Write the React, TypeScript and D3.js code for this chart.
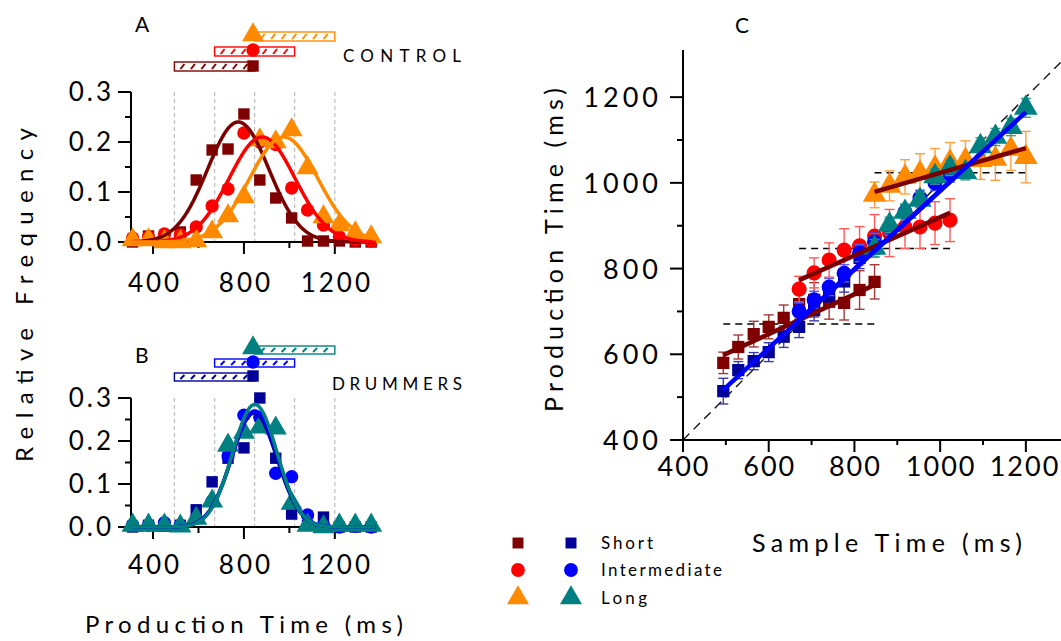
import React from 'react';
import * as d3 from 'd3';

// histogram bin centres (ms), panels A and B
const binCenters = [310, 380, 450, 520, 590, 660, 730, 800, 870, 940, 1010, 1080, 1150, 1220, 1290, 1360];

// panel A, control
const ctlShortFreq = [0, 0.012, 0.008, 0.02, 0.124, 0.184, 0.186, 0.256, 0.124, 0.088, 0.048, 0.002, 0.002, 0.002, 0, 0];
const ctlInterFreq = [0.008, 0.01, 0.016, 0.014, 0.03, 0.072, 0.106, 0.218, 0.2, 0.195, 0.108, 0.064, 0.034, 0.01, 0.004, 0.002];
const ctlLongFreq = [0.004, 0.004, 0, 0, 0.002, 0.02, 0.052, 0.09, 0.204, 0.2, 0.224, 0.148, 0.05, 0.034, 0.018, 0.01];

// panel B, drummers
const drmShortFreq = [0, 0.004, 0.002, 0.004, 0.04, 0.105, 0.16, 0.184, 0.3, 0.16, 0.03, 0.004, 0.023, 0, 0, 0];
const drmInterFreq = [0.005, 0.004, 0.01, 0.004, 0.02, 0.06, 0.165, 0.26, 0.255, 0.125, 0.117, 0.028, 0.004, 0, 0.002, 0];
const drmLongFreq = [0.004, 0.004, 0.004, 0.002, 0.02, 0.06, 0.19, 0.22, 0.232, 0.23, 0.055, 0.004, 0, 0.004, 0.004, 0.004];

// gaussian fits [short, intermediate, long]
const ctlFitMu = [775, 880, 975];
const ctlFitSd = [135, 145, 150];
const ctlFitAmp = [0.24, 0.21, 0.21];
const drmFitMu = [845, 848, 848];
const drmFitSd = [100, 100, 98];
const drmFitAmp = [0.265, 0.27, 0.285];

// sample intervals (ms)
const intervalShort = [494, 847];
const intervalInter = [671, 1023];
const intervalLong = [847, 1200];
const intervalBounds = [494, 671, 847, 1023, 1200];
const intervalMeans = [670.5, 847, 1023.5];

// panel C sample times
const shortSample = [494, 529, 565, 600, 635, 671, 706, 741, 776, 812, 847];
const interSample = [671, 706, 741, 776, 812, 847, 882, 918, 953, 988, 1023];
const longSample = [847, 882, 918, 953, 988, 1023, 1059, 1094, 1129, 1165, 1200];

// panel C mean production times and errors
const ctlShortProd = [580, 617, 647, 664, 685, 717, 727, 722, 720, 750, 769];
const ctlShortErr = [25, 28, 30, 28, 30, 35, 40, 40, 40, 45, 40];
const ctlInterProd = [752, 790, 820, 843, 853, 876, 883, 897, 897, 906, 913];
const ctlInterErr = [30, 35, 40, 50, 45, 50, 55, 50, 50, 50, 50];
const ctlLongProd = [972, 993, 1014, 1023, 1035, 1049, 1053, 1053, 1056, 1079, 1060];
const ctlLongErr = [30, 35, 40, 45, 45, 45, 45, 45, 50, 50, 60];

const drmShortProd = [514, 563, 584, 605, 641, 664, 703, 735, 770, 825, 858];
const drmShortErr = [30, 20, 20, 22, 25, 25, 25, 25, 25, 25, 25];
const drmInterProd = [700, 727, 757, 789, 836, 862, 897, 932, 965, 1000, 1020];
const drmInterErr = [20, 20, 20, 20, 20, 20, 18, 18, 18, 18, 18];
const drmLongProd = [848, 902, 932, 960, 1015, 1035, 1025, 1085, 1107, 1130, 1175];
const drmLongErr = [20, 18, 18, 18, 18, 18, 18, 20, 20, 20, 22];

// linear fits: [y at interval start, y at interval end]
const ctlFitShort = [598, 762];
const ctlFitInter = [773, 930];
const ctlFitLong = [979, 1081];
const drmFitShort = [517, 841];
const drmFitInter = [680, 1003];
const drmFitLong = [841, 1165];

const legendLabels = ['Short', 'Intermediate', 'Long'];

const C = {
  ctlShort: '#800000',
  ctlInter: '#ff0000',
  ctlLong: '#ff8a00',
  drmShort: '#000099',
  drmInter: '#0000ff',
  drmLong: '#008080',
  ctlFit: '#7a0000',
  drmFit: '#0000ff',
};

const FONT = 'Lato, "Open Sans", sans-serif';

const xA = d3.scaleLinear().domain([303, 1390]).range([131, 378]);
const yA = d3.scaleLinear().domain([0, 0.3]).range([242, 92]);
const yB = d3.scaleLinear().domain([0, 0.3]).range([527, 398]);
const xC = d3.scaleLinear().domain([400, 1282]).range([683, 1061]);
const yC = d3.scaleLinear().domain([400, 1310]).range([440, 50]);

const sym = (t: d3.SymbolType, s: number) => d3.symbol().type(t).size(s)() as string;
const SQ = d3.symbolSquare;
const CI = d3.symbolCircle;
const TR = d3.symbolTriangle;

const gaussXs = d3.range(303, 1382, 4);

function gaussPath(mu: number, sd: number, amp: number, y: d3.ScaleLinear<number, number>) {
  return d3.line<number>()
    .x(v => xA(v))
    .y(v => y(amp * Math.exp(-((v - mu) ** 2) / (2 * sd * sd))))(gaussXs) as string;
}

function HatchBar({ x0, x1, top, h, color }: { x0: number; x1: number; top: number; h: number; color: string }) {
  const slashes = d3.range(x0 + 6, x1 - 4, 10.5);
  return (
    <g>
      <rect x={x0} y={top} width={x1 - x0} height={h} fill="#fff" stroke={color} strokeWidth={1.4} />
      {slashes.map((sx, i) => (
        <line key={i} x1={sx} y1={top + h - 2} x2={sx + 4} y2={top + 2} stroke={color} strokeWidth={2} />
      ))}
    </g>
  );
}

function HistPanel({ y, freqs, colors, mus, sds, amps, curveColors, barTops, barH, markerY, title, titleXY, group, groupXY, groupLen, xLabelY }: any) {
  const y0 = y(0);
  const y3 = y(0.3);
  const shapes = [SQ, CI, TR];
  const sizes = [130, 140, 210];
  const intervals = [intervalShort, intervalInter, intervalLong];
  return (
    <g>
      {intervalBounds.map(b => (
        <line key={b} x1={xA(b)} x2={xA(b)} y1={y3} y2={y0} stroke="#bdbdbd" strokeWidth={1.2} strokeDasharray="4,3" />
      ))}
      {/* axes */}
      <line x1={131} x2={131} y1={y3} y2={y0} stroke="#000" strokeWidth={2} />
      <line x1={131} x2={376} y1={y0} y2={y0} stroke="#000" strokeWidth={2} />
      {[0, 0.1, 0.2, 0.3].map(t => (
        <g key={t}>
          <line x1={118} x2={131} y1={y(t)} y2={y(t)} stroke="#000" strokeWidth={2} />
          <text x={114} y={y(t) + 9} textAnchor="end" fontSize={26} fontFamily={FONT} letterSpacing={3}>{t.toFixed(1)}</text>
        </g>
      ))}
      {[0.05, 0.15, 0.25].map(t => (
        <line key={t} x1={125} x2={131} y1={y(t)} y2={y(t)} stroke="#000" strokeWidth={2} />
      ))}
      {[400, 800, 1200].map(t => (
        <g key={t}>
          <line x1={xA(t)} x2={xA(t)} y1={y0} y2={y0 + 12} stroke="#000" strokeWidth={2} />
          <text x={xA(t) + 2} y={xLabelY} textAnchor="middle" fontSize={26} fontFamily={FONT} letterSpacing={3}>{t}</text>
        </g>
      ))}
      {[600, 1000].map(t => (
        <line key={t} x1={xA(t)} x2={xA(t)} y1={y0} y2={y0 + 6} stroke="#000" strokeWidth={2} />
      ))}
      {/* data */}
      {freqs.map((f: number[], si: number) => (
        <g key={si}>
          {f.map((v, i) => (
            <path key={i} d={sym(shapes[si], sizes[si])} transform={`translate(${xA(binCenters[i])},${y(v)})`} fill={colors[si]} />
          ))}
        </g>
      ))}
      {mus.map((m: number, si: number) => (
        <path key={si} d={gaussPath(m, sds[si], amps[si], y)} fill="none" stroke={curveColors[si]} strokeWidth={3.5} />
      ))}
      {/* interval bars */}
      {intervals.map((iv, si) => (
        <g key={si}>
          <HatchBar x0={xA(iv[0])} x1={xA(iv[1])} top={barTops[si]} h={barH} color={colors[si]} />
        </g>
      ))}
      {intervals.map((iv, si) => (
        <path key={si} d={sym(shapes[si], sizes[si])} transform={`translate(${xA(840)},${markerY[si]})`} fill={colors[si]} />
      ))}
      <text x={titleXY[0]} y={titleXY[1]} fontSize={21} fontFamily={FONT}>{title}</text>
      <text x={groupXY[0]} y={groupXY[1]} fontSize={17} fontFamily={FONT} textLength={groupLen} lengthAdjust="spacing">{group}</text>
    </g>
  );
}

function ErrPoints({ xs, ys, errs, shape, size, color, errColor }: any) {
  return (
    <g>
      {xs.map((xv: number, i: number) => {
        const cx = xC(xv);
        const top = yC(ys[i] + errs[i]);
        const bot = yC(ys[i] - errs[i]);
        return (
          <g key={i} stroke={errColor} strokeWidth={1.4}>
            <line x1={cx} x2={cx} y1={top} y2={bot} />
            <line x1={cx - 5} x2={cx + 5} y1={top} y2={top} />
            <line x1={cx - 5} x2={cx + 5} y1={bot} y2={bot} />
          </g>
        );
      })}
      {xs.map((xv: number, i: number) => (
        <path key={i} d={sym(shape, size)} transform={`translate(${xC(xv)},${yC(ys[i])})`} fill={color} />
      ))}
    </g>
  );
}

function FitLine({ iv, fit, color }: any) {
  return <line x1={xC(iv[0])} y1={yC(fit[0])} x2={xC(iv[1])} y2={yC(fit[1])} stroke={color} strokeWidth={4.5} />;
}

export default function App() {
  const intervals = [intervalShort, intervalInter, intervalLong];
  return (
    <svg width={1061} height={641} style={{ position: 'absolute', left: 0, top: 0, background: '#fff' }}>
      <rect width={1061} height={641} fill="#fff" />
      <HistPanel
        y={yA}
        freqs={[ctlShortFreq, ctlInterFreq, ctlLongFreq]}
        colors={[C.ctlShort, C.ctlInter, C.ctlLong]}
        mus={ctlFitMu} sds={ctlFitSd} amps={ctlFitAmp}
        curveColors={[C.ctlFit, C.ctlInter, C.ctlLong]}
        barTops={[62, 47, 32]} barH={9} markerY={[66, 50, 35]}
        title="A" titleXY={[135, 32]}
        group="CONTROL" groupXY={[343, 62]} groupLen={118}
        xLabelY={292}
      />
      <HistPanel
        y={yB}
        freqs={[drmShortFreq, drmInterFreq, drmLongFreq]}
        colors={[C.drmShort, C.drmInter, C.drmLong]}
        mus={drmFitMu} sds={drmFitSd} amps={drmFitAmp}
        curveColors={[C.drmShort, C.drmInter, C.drmLong]}
        barTops={[373, 359, 346]} barH={8} markerY={[376, 362, 348]}
        title="B" titleXY={[135, 363]}
        group="DRUMMERS" groupXY={[332, 390]} groupLen={130}
        xLabelY={574}
      />
      <text transform="translate(33,295) rotate(-90)" textAnchor="middle" fontSize={24} fontFamily={FONT} textLength={334} lengthAdjust="spacing">Relative Frequency</text>
      <text x={85} y={633} fontSize={24} fontFamily={FONT} textLength={318} lengthAdjust="spacing">Production Time (ms)</text>

      {/* panel C */}
      <text x={735} y={33} fontSize={21} fontFamily={FONT}>C</text>
      <line x1={xC(400)} y1={yC(400)} x2={xC(1282)} y2={yC(1282)} stroke="#000" strokeWidth={1.3} strokeDasharray="9,6" />
      {intervals.map((iv, i) => (
        <line key={i} x1={xC(iv[0])} x2={xC(iv[1])} y1={yC(intervalMeans[i])} y2={yC(intervalMeans[i])} stroke="#000" strokeWidth={1.5} strokeDasharray="7,5" />
      ))}
      <ErrPoints xs={shortSample} ys={ctlShortProd} errs={ctlShortErr} shape={SQ} size={150} color={C.ctlShort} errColor="#a33a3a" />
      <ErrPoints xs={interSample} ys={ctlInterProd} errs={ctlInterErr} shape={CI} size={180} color={C.ctlInter} errColor="#ff5a5a" />
      <ErrPoints xs={longSample} ys={ctlLongProd} errs={ctlLongErr} shape={TR} size={240} color={C.ctlLong} errColor="#ffa040" />
      <ErrPoints xs={shortSample} ys={drmShortProd} errs={drmShortErr} shape={SQ} size={150} color={C.drmShort} errColor="#3a3aaa" />
      <ErrPoints xs={interSample} ys={drmInterProd} errs={drmInterErr} shape={CI} size={180} color={C.drmInter} errColor="#5a5aff" />
      <ErrPoints xs={longSample} ys={drmLongProd} errs={drmLongErr} shape={TR} size={240} color={C.drmLong} errColor="#3a9a9a" />
      <FitLine iv={intervalShort} fit={ctlFitShort} color={C.ctlFit} />
      <FitLine iv={intervalInter} fit={ctlFitInter} color={C.ctlFit} />
      <FitLine iv={intervalLong} fit={ctlFitLong} color={C.ctlFit} />
      <FitLine iv={intervalShort} fit={drmFitShort} color={C.drmFit} />
      <FitLine iv={intervalInter} fit={drmFitInter} color={C.drmFit} />
      <FitLine iv={intervalLong} fit={drmFitLong} color={C.drmFit} />

      <line x1={683} x2={683} y1={50} y2={440} stroke="#000" strokeWidth={2} />
      <line x1={683} x2={1061} y1={440} y2={440} stroke="#000" strokeWidth={2} />
      {[400, 600, 800, 1000, 1200].map(t => (
        <g key={t}>
          <line x1={670} x2={683} y1={yC(t)} y2={yC(t)} stroke="#000" strokeWidth={2} />
          <text x={662} y={yC(t) + 10} textAnchor="end" fontSize={27} fontFamily={FONT} letterSpacing={4}>{t}</text>
          <line x1={xC(t)} x2={xC(t)} y1={440} y2={452} stroke="#000" strokeWidth={2} />
          <text x={Math.min(xC(t) + 1, 1025)} y={476} textAnchor="middle" fontSize={27} fontFamily={FONT} letterSpacing={2}>{t}</text>
        </g>
      ))}
      {[500, 700, 900, 1100].map(t => (
        <g key={t}>
          <line x1={677} x2={683} y1={yC(t)} y2={yC(t)} stroke="#000" strokeWidth={2} />
          <line x1={xC(t)} x2={xC(t)} y1={440} y2={445} stroke="#000" strokeWidth={2} />
        </g>
      ))}
      <text transform="translate(563,250) rotate(-90)" textAnchor="middle" fontSize={25} fontFamily={FONT} textLength={324} lengthAdjust="spacing">Production Time (ms)</text>
      <text x={752} y={552} fontSize={25} fontFamily={FONT} textLength={270} lengthAdjust="spacing">Sample Time (ms)</text>

      {/* legend */}
      {legendLabels.map((lab, i) => {
        const ly = [543, 570, 598][i];
        const shape = [SQ, CI, TR][i];
        const size = [120, 150, 210][i];
        const cols = [[C.ctlShort, C.drmShort], [C.ctlInter, C.drmInter], [C.ctlLong, C.drmLong]][i];
        const lens = [52, 121, 46];
        return (
          <g key={lab}>
            <path d={sym(shape, size)} transform={`translate(518,${ly})`} fill={cols[0]} />
            <path d={sym(shape, size)} transform={`translate(571,${ly})`} fill={cols[1]} />
            <text x={601} y={ly + 6} fontSize={17} fontFamily={FONT} textLength={lens[i]} lengthAdjust="spacing">{lab}</text>
          </g>
        );
      })}
    </svg>
  );
}
